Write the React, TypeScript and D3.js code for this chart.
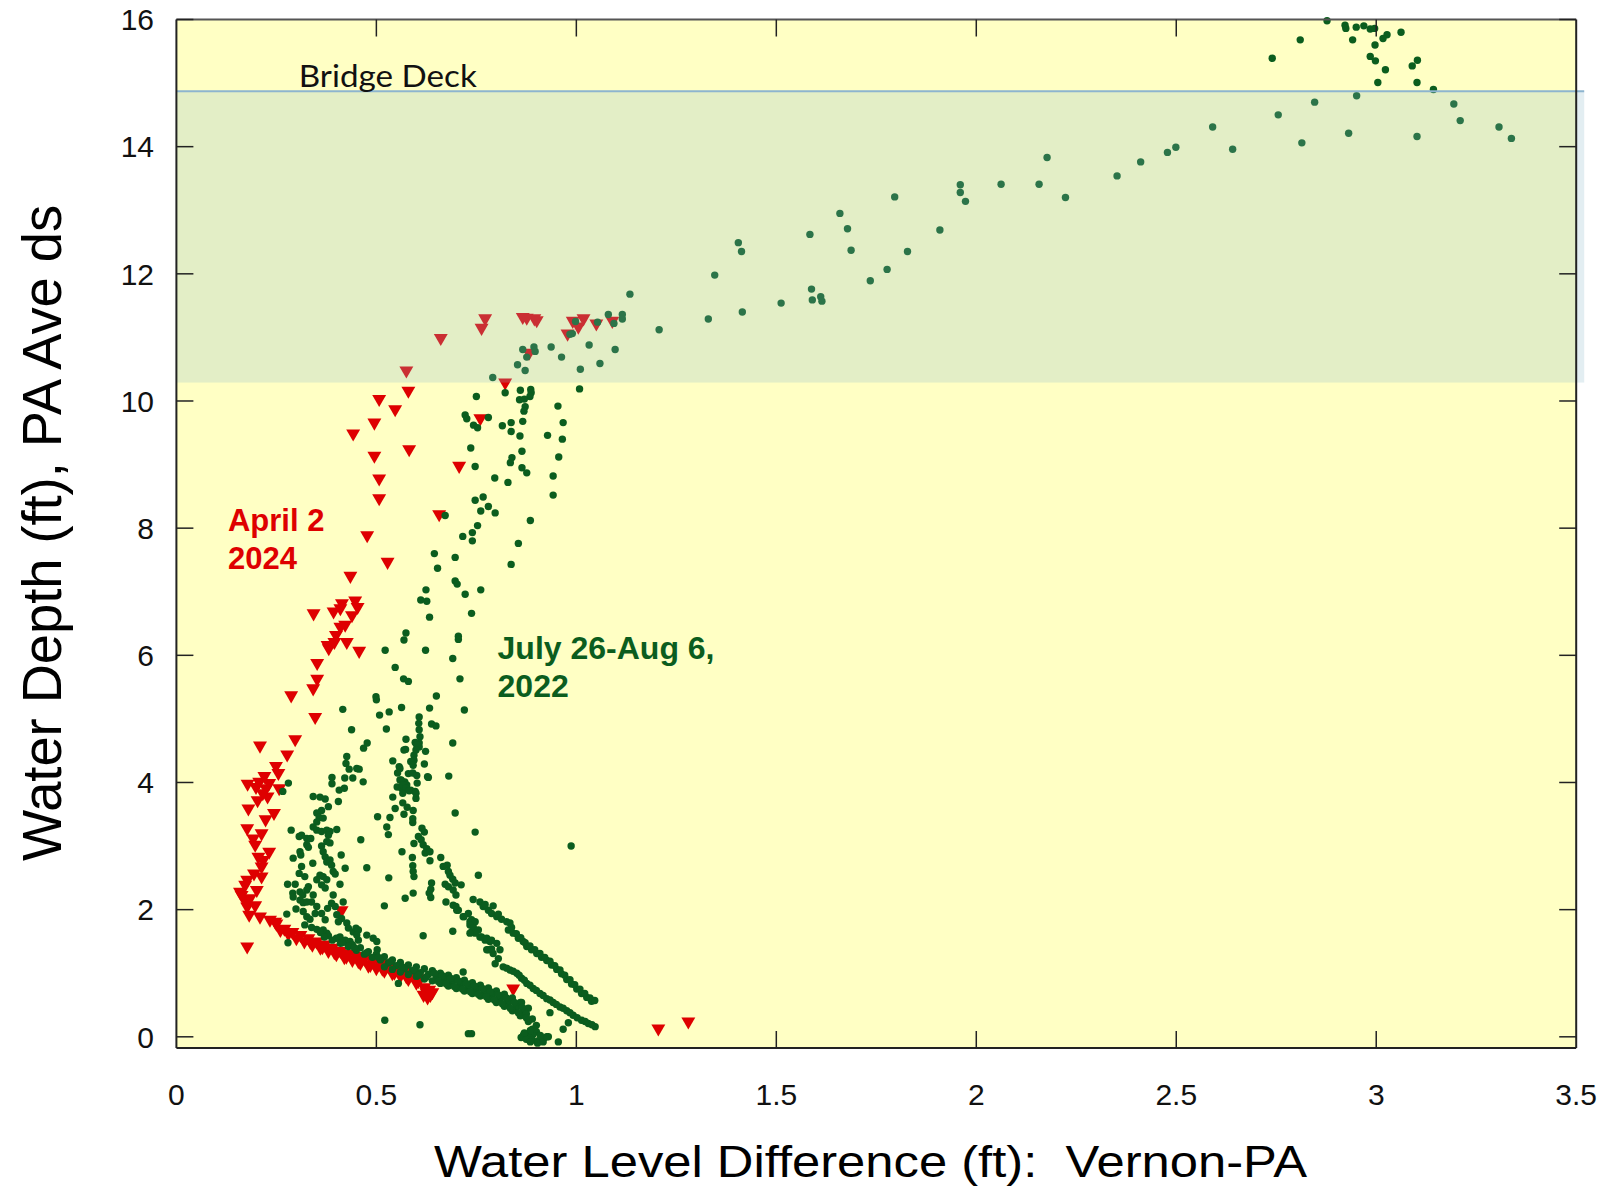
import * as d3 from "d3";

// axis ticks
const xTicks = [0, 0.5, 1, 1.5, 2, 2.5, 3, 3.5];
const yTicks = [0, 2, 4, 6, 8, 10, 12, 14, 16];
const bandLow = 10.29;
const bridgeDeck = 14.87;

// April 2 2024 - scattered triangles
const aprilScatter: [number, number][] = [
  [0.772, 11.3], [0.763, 11.15], [0.661, 10.99], [0.866, 11.32], [0.876, 11.31], [0.895, 11.3],
  [0.901, 11.27], [0.991, 11.26], [1.018, 11.3], [1.005, 11.17], [0.978, 11.06], [1.05, 11.22],
  [1.09, 11.26], [0.882, 10.76], [0.575, 10.48], [0.58, 10.16], [0.822, 10.29], [0.76, 9.73],
  [0.582, 9.24], [0.707, 8.98], [0.657, 8.22], [0.507, 10.03], [0.547, 9.87], [0.495, 9.66],
  [0.442, 9.49], [0.495, 9.14], [0.507, 8.78], [0.507, 8.47], [0.477, 7.89], [0.528, 7.47],
  [0.435, 7.25], [0.447, 6.86], [0.453, 6.76], [0.414, 6.82], [0.41, 6.74], [0.393, 6.69],
  [0.343, 6.66], [0.439, 6.63], [0.422, 6.48], [0.41, 6.45], [0.399, 6.32], [0.395, 6.21],
  [0.378, 6.16], [0.381, 6.11], [0.426, 6.21], [0.457, 6.07], [0.352, 5.88], [0.352, 5.63],
  [0.342, 5.48], [0.287, 5.37], [0.347, 5.03], [0.297, 4.68], [0.209, 4.58], [0.277, 4.44],
  [0.249, 4.26], [0.255, 4.15], [0.22, 4.1], [0.207, 4.01], [0.232, 3.99], [0.178, 3.98],
  [0.199, 3.93], [0.224, 3.91], [0.216, 3.83], [0.228, 3.78], [0.203, 3.72], [0.257, 3.91],
  [0.18, 3.59], [0.244, 3.52], [0.223, 3.42], [0.177, 3.28], [0.213, 3.2], [0.192, 3.12],
  [0.197, 3.02], [0.232, 2.91], [0.205, 2.83], [0.217, 2.78], [0.213, 2.68], [0.194, 2.57],
  [0.213, 2.52], [0.177, 2.47], [0.172, 2.39], [0.201, 2.31], [0.159, 2.28], [0.163, 2.23],
  [0.172, 2.15], [0.184, 2.18], [0.177, 2.05], [0.197, 2.07], [0.182, 1.92], [0.209, 1.89],
  [0.177, 1.42], [0.234, 1.84], [0.247, 1.81], [0.413, 1.99], [0.842, 0.76], [1.205, 0.13],
  [1.28, 0.24],
];

// April 2 2024 - recession limb
const aprilLine: [number, number][] = [
  [0.25, 1.78], [0.27, 1.7], [0.29, 1.65], [0.31, 1.6], [0.33, 1.55], [0.35, 1.5], [0.37, 1.45],
  [0.39, 1.4], [0.41, 1.35], [0.43, 1.31], [0.45, 1.27], [0.47, 1.23], [0.49, 1.19], [0.51, 1.15],
  [0.53, 1.11], [0.55, 1.07], [0.57, 1.02], [0.59, 0.97], [0.61, 0.92],
  [0.26, 1.68], [0.28, 1.62], [0.3, 1.55], [0.32, 1.5], [0.34, 1.45], [0.36, 1.4], [0.38, 1.35],
  [0.4, 1.3], [0.42, 1.25], [0.44, 1.21], [0.46, 1.16], [0.48, 1.12], [0.5, 1.08], [0.52, 1.04],
  [0.54, 1.0], [0.56, 0.96], [0.58, 0.91], [0.6, 0.85], [0.62, 0.78],
  [0.335, 1.49], [0.365, 1.41], [0.395, 1.33], [0.425, 1.26], [0.455, 1.19], [0.485, 1.13],
  [0.515, 1.07], [0.545, 1.01], [0.575, 0.95], [0.605, 0.88],
  [0.625, 0.7], [0.635, 0.66], [0.628, 0.62], [0.64, 0.7], [0.618, 0.66], [0.632, 0.74],
];

// July 26 - Aug 6 2022 - above 10.5 ft
const julyHigh: [number, number][] = [
  [2.877, 15.98], [2.922, 15.91], [2.924, 15.86], [2.95, 15.88], [2.969, 15.9], [2.985, 15.85],
  [2.996, 15.86], [2.81, 15.68], [2.941, 15.68], [3.027, 15.76], [3.017, 15.7], [3.062, 15.8],
  [2.997, 15.6], [2.74, 15.39], [2.985, 15.42], [2.998, 15.35], [3.023, 15.21], [3.103, 15.36],
  [3.09, 15.27], [3.004, 15.01], [3.102, 15.01], [3.143, 14.9], [2.846, 14.7], [2.951, 14.8],
  [2.755, 14.5], [3.194, 14.67], [3.21, 14.41], [3.307, 14.31], [3.338, 14.13], [2.931, 14.21],
  [3.102, 14.16], [2.814, 14.06], [2.591, 14.31], [2.641, 13.96], [2.499, 13.99], [2.478, 13.91],
  [2.411, 13.76], [2.352, 13.54], [2.177, 13.83], [2.223, 13.2], [2.157, 13.41], [2.062, 13.41],
  [1.96, 13.4], [1.96, 13.28], [1.973, 13.14], [1.796, 13.21], [1.909, 12.69], [1.828, 12.35],
  [1.777, 12.07], [1.735, 11.89], [1.659, 12.95], [1.678, 12.71], [1.687, 12.37], [1.584, 12.62],
  [1.588, 11.76], [1.59, 11.59], [1.611, 11.64], [1.614, 11.57], [1.512, 11.54], [1.415, 11.4],
  [1.33, 11.29], [1.405, 12.49], [1.413, 12.35], [1.346, 11.98], [1.207, 11.12], [1.134, 11.68],
  [1.115, 11.36], [1.115, 11.29], [1.08, 11.36], [1.094, 11.22], [1.097, 10.81], [1.059, 10.59],
  [1.032, 10.88], [1.01, 10.5], [1.053, 11.24], [0.998, 11.25], [0.99, 11.06], [0.984, 11.05],
  [0.963, 10.69], [0.937, 10.85], [0.894, 10.85], [0.897, 10.78], [0.866, 10.81], [0.876, 10.69],
  [0.853, 10.57],
];

// July 26 - Aug 6 2022 - rising limb 4.8 to 10.5 ft
const julyRise: [number, number][] = [
  [1.008, 10.19], [0.872, 10.48], [0.791, 10.37], [0.86, 10.17], [0.886, 10.18], [0.887, 10.13],
  [0.884, 10.07], [0.858, 10.02], [0.87, 10.03], [0.872, 9.91], [0.869, 9.84], [0.866, 9.68],
  [0.859, 9.45], [0.864, 9.21], [0.839, 9.11], [0.835, 9.03], [0.864, 8.95], [0.876, 8.87],
  [0.837, 9.66], [0.837, 9.52], [0.815, 9.61], [0.954, 9.92], [0.967, 9.66], [0.965, 9.4],
  [0.928, 9.46], [0.956, 9.12], [0.942, 8.82], [0.942, 8.52], [0.75, 10.07], [0.722, 9.78],
  [0.726, 9.72], [0.743, 9.62], [0.753, 9.58], [0.78, 9.74], [0.736, 9.26], [0.747, 8.97],
  [0.796, 8.79], [0.829, 8.72], [0.672, 8.2], [0.747, 8.44], [0.767, 8.49], [0.761, 8.27],
  [0.78, 8.34], [0.797, 8.24], [0.753, 8.04], [0.74, 7.93], [0.74, 7.8], [0.716, 7.87],
  [0.885, 8.12], [0.855, 7.76], [0.837, 7.43], [0.645, 7.6], [0.697, 7.54], [0.653, 7.37],
  [0.697, 7.17], [0.702, 7.12], [0.722, 6.96], [0.761, 7.03], [0.624, 7.03], [0.611, 6.87],
  [0.626, 6.85], [0.633, 6.6], [0.738, 6.66], [0.574, 6.35], [0.569, 6.24], [0.705, 6.3],
  [0.705, 6.25], [0.623, 6.08], [0.691, 5.95], [0.568, 5.63], [0.58, 5.59], [0.709, 5.63],
  [0.65, 5.36], [0.563, 5.18], [0.633, 5.17], [0.72, 5.14], [0.607, 5.03], [0.606, 4.93],
  [0.638, 4.92], [0.649, 4.89], [0.822, 10.13], [0.522, 6.08], [0.547, 5.81], [0.499, 5.35],
  [0.5, 5.3], [0.416, 5.15], [0.532, 5.11], [0.508, 5.06], [0.438, 4.83], [0.525, 4.84],
];

// July 26 - Aug 6 2022 - scattered below 4.8 ft
const julyLow: [number, number][] = [
  [0.607, 4.83], [0.609, 4.72], [0.607, 4.62], [0.597, 4.63], [0.607, 4.56], [0.574, 4.68],
  [0.691, 4.62], [0.468, 4.54], [0.477, 4.62], [0.569, 4.51], [0.623, 4.49], [0.541, 4.34],
  [0.594, 4.43], [0.594, 4.35], [0.586, 4.33], [0.592, 4.27], [0.62, 4.29], [0.426, 4.41],
  [0.424, 4.3], [0.432, 4.21], [0.451, 4.22], [0.457, 4.21], [0.681, 4.1], [0.628, 4.09],
  [0.573, 4.52], [0.601, 4.59], [0.599, 4.51], [0.553, 4.15], [0.557, 4.25],
  [0.421, 4.07], [0.441, 4.07], [0.467, 4.01], [0.389, 4.08], [0.389, 3.98], [0.407, 3.88],
  [0.42, 3.91], [0.405, 3.7], [0.28, 3.99], [0.266, 3.86], [0.342, 3.78], [0.359, 3.77],
  [0.372, 3.74], [0.38, 3.62], [0.363, 3.56], [0.351, 3.52], [0.357, 3.45], [0.367, 3.44],
  [0.351, 3.38], [0.342, 3.3], [0.351, 3.25], [0.363, 3.23], [0.376, 3.25], [0.384, 3.23],
  [0.401, 3.26], [0.287, 3.25], [0.307, 3.15], [0.313, 3.17], [0.326, 3.12], [0.336, 3.12],
  [0.38, 3.17], [0.376, 3.07], [0.384, 3.05], [0.326, 3.02], [0.33, 2.98], [0.461, 3.1],
  [0.363, 3.0], [0.367, 2.91], [0.372, 2.83], [0.376, 2.75], [0.309, 2.91], [0.311, 2.86],
  [0.292, 2.81], [0.341, 2.73], [0.412, 2.86], [0.384, 2.78], [0.388, 2.7], [0.392, 2.6],
  [0.397, 2.56], [0.422, 2.65], [0.313, 2.68], [0.307, 2.57], [0.321, 2.52], [0.359, 2.54],
  [0.367, 2.52], [0.376, 2.47], [0.33, 2.36], [0.326, 2.31], [0.351, 2.47], [0.363, 2.39],
  [0.372, 2.34], [0.278, 2.4], [0.297, 2.4], [0.291, 2.26], [0.292, 2.2], [0.309, 2.28],
  [0.316, 2.23], [0.309, 2.15], [0.317, 2.11], [0.326, 2.12], [0.342, 2.23], [0.338, 2.12],
  [0.351, 2.05], [0.347, 1.94], [0.299, 2.01], [0.276, 1.93], [0.317, 1.97], [0.326, 1.89],
  [0.334, 1.85], [0.321, 1.76], [0.338, 1.72], [0.351, 1.69], [0.363, 1.94], [0.372, 1.84],
  [0.392, 2.23], [0.388, 2.1], [0.397, 2.05], [0.409, 2.4], [0.417, 2.12], [0.401, 1.92],
  [0.413, 1.86], [0.405, 1.81], [0.378, 2.02], [0.426, 1.79], [0.43, 1.71], [0.442, 1.65],
  [0.449, 1.71], [0.455, 1.68], [0.279, 1.48], [0.376, 1.63], [0.367, 1.68], [0.409, 1.57],
  [0.422, 1.52], [0.434, 1.5], [0.455, 1.52], [0.451, 1.6], [0.476, 1.6], [0.492, 1.55],
  [0.501, 1.5], [0.502, 1.37], [0.476, 2.66], [0.52, 2.06], [0.531, 2.5],
  [0.559, 4.22], [0.58, 4.14], [0.591, 4.15], [0.601, 4.11], [0.559, 4.04], [0.571, 4.01],
  [0.552, 3.93], [0.563, 3.91], [0.576, 3.96], [0.586, 3.88], [0.597, 3.86], [0.599, 3.75],
  [0.602, 3.99], [0.63, 4.08], [0.541, 3.77], [0.566, 3.68], [0.577, 3.61], [0.547, 3.59],
  [0.592, 3.56], [0.569, 3.5], [0.591, 3.43], [0.591, 3.37], [0.534, 3.45], [0.503, 3.46],
  [0.526, 3.3], [0.53, 3.18], [0.614, 3.28], [0.62, 3.22], [0.605, 3.15], [0.612, 3.1],
  [0.594, 3.04], [0.617, 3.02], [0.626, 2.96], [0.622, 2.89], [0.634, 2.91], [0.564, 2.91],
  [0.59, 2.82], [0.634, 2.77], [0.661, 2.82], [0.667, 2.68], [0.677, 2.7], [0.591, 2.69],
  [0.592, 2.6], [0.594, 2.52], [0.68, 2.6], [0.684, 2.54], [0.691, 2.48], [0.697, 2.42],
  [0.712, 2.39], [0.672, 2.4], [0.68, 2.36], [0.638, 2.42], [0.636, 2.32], [0.632, 2.26],
  [0.636, 2.19], [0.692, 2.31], [0.699, 2.23], [0.592, 2.26], [0.572, 2.18], [0.674, 2.12],
  [0.699, 2.05], [0.705, 1.99], [0.755, 2.54], [0.697, 3.52], [0.747, 3.22], [0.987, 3.0],
  [0.742, 2.16], [0.562, 4.04], [0.566, 3.96], [0.574, 3.91], [0.582, 3.87], [0.566, 3.83],
  [0.599, 3.83], [0.617, 1.59], [0.691, 1.66], [0.717, 1.02], [0.555, 0.84], [0.521, 0.26],
  [0.609, 0.19], [0.73, 0.05], [0.738, 0.05], [0.863, 0.54], [0.934, 0.38], [0.967, 0.12],
  [0.98, 0.22], [0.93, 0.0], [0.955, -0.08],
];

// July 26 - Aug 6 2022 - the three dense recession streaks
const julyStreaks: [number, number][] = [
  // right streak
  [0.759, 2.12], [0.767, 2.05], [0.78, 1.99], [0.792, 2.06], [0.788, 1.94], [0.801, 1.89],
  [0.813, 1.85], [0.826, 1.81], [0.834, 1.79], [0.83, 1.68], [0.842, 1.63], [0.855, 1.55],
  [0.867, 1.5], [0.876, 1.42], [0.888, 1.37], [0.901, 1.31], [0.913, 1.25], [0.926, 1.2],
  [0.938, 1.13], [0.951, 1.06], [0.963, 0.99], [0.976, 0.9], [0.988, 0.83], [1.001, 0.75],
  [1.013, 0.68], [1.026, 0.62], [1.038, 0.56],
  [0.772, 2.08], [0.805, 1.93], [0.838, 1.72], [0.85, 1.62], [0.861, 1.56], [0.872, 1.48],
  [0.884, 1.43], [0.896, 1.37], [0.909, 1.31], [0.921, 1.25], [0.934, 1.19], [0.946, 1.12],
  [0.959, 1.05], [0.971, 0.97], [0.984, 0.9], [0.996, 0.82], [1.009, 0.75], [1.021, 0.68],
  [1.034, 0.61], [1.046, 0.57],
  // middle streak
  [0.692, 2.07], [0.701, 1.99], [0.717, 1.89], [0.73, 1.94], [0.734, 1.81], [0.742, 1.73],
  [0.738, 1.65], [0.759, 1.57], [0.772, 1.52], [0.784, 1.5], [0.801, 1.47], [0.809, 1.37],
  [0.78, 1.37], [0.792, 1.31], [0.805, 1.23], [0.797, 1.15], [0.817, 1.1], [0.834, 1.05],
  [0.851, 1.0], [0.863, 0.92], [0.876, 0.84], [0.892, 0.76], [0.909, 0.68], [0.926, 0.6],
  [0.942, 0.54], [0.959, 0.47], [0.976, 0.41], [0.992, 0.34], [1.013, 0.26], [1.03, 0.21],
  [1.047, 0.16],
  [0.826, 1.08], [0.842, 1.03], [0.857, 0.97], [0.87, 0.89], [0.884, 0.81], [0.9, 0.73],
  [0.917, 0.65], [0.934, 0.58], [0.95, 0.51], [0.967, 0.45], [0.984, 0.38], [1.002, 0.3],
  [1.022, 0.24], [1.039, 0.19],
  [0.763, 1.57], [0.776, 1.55], [0.788, 1.52], [0.776, 1.37], [0.788, 1.38], [0.719, 1.89],
  [0.738, 1.84], [0.747, 1.81], [0.734, 1.76], [0.742, 1.71], [0.755, 1.68], [0.747, 1.63],
  [0.734, 1.63],
  // lower streak
  [0.36, 1.64], [0.38, 1.59], [0.4, 1.55], [0.42, 1.5], [0.44, 1.45], [0.46, 1.4], [0.48, 1.34],
  [0.5, 1.3], [0.52, 1.26], [0.54, 1.21], [0.56, 1.17], [0.58, 1.13], [0.6, 1.1], [0.62, 1.07],
  [0.64, 1.04], [0.66, 1.0], [0.68, 0.97], [0.7, 0.93], [0.72, 0.89], [0.74, 0.85], [0.76, 0.81],
  [0.78, 0.77], [0.8, 0.72], [0.82, 0.67], [0.84, 0.61], [0.86, 0.54], [0.88, 0.45],
  [0.37, 1.57], [0.39, 1.52], [0.41, 1.47], [0.43, 1.42], [0.45, 1.36], [0.47, 1.3], [0.49, 1.25],
  [0.51, 1.21], [0.53, 1.16], [0.55, 1.12], [0.57, 1.07], [0.59, 1.04], [0.61, 1.01], [0.63, 0.98],
  [0.65, 0.94], [0.67, 0.9], [0.69, 0.86], [0.71, 0.82], [0.73, 0.78], [0.75, 0.74], [0.77, 0.7],
  [0.79, 0.66], [0.81, 0.6], [0.83, 0.54], [0.85, 0.47], [0.87, 0.39], [0.89, 0.28], [0.9, 0.18],
  [0.52, 1.1], [0.54, 1.06], [0.56, 1.02], [0.58, 0.98], [0.6, 0.95], [0.62, 0.91], [0.64, 0.88],
  [0.66, 0.84], [0.68, 0.8], [0.7, 0.76], [0.72, 0.72], [0.74, 0.68], [0.76, 0.64], [0.78, 0.59],
  [0.8, 0.54], [0.82, 0.48], [0.84, 0.41], [0.86, 0.33], [0.88, 0.24], [0.89, 0.12],
  [0.415, 1.48], [0.445, 1.4], [0.475, 1.32], [0.505, 1.25], [0.535, 1.18], [0.565, 1.1],
  [0.595, 1.05], [0.645, 1.0], [0.665, 0.96], [0.685, 0.92], [0.705, 0.88], [0.725, 0.84],
  [0.745, 0.8], [0.765, 0.76], [0.785, 0.71], [0.805, 0.66], [0.825, 0.61], [0.845, 0.54],
  [0.865, 0.46], [0.875, 0.36], [0.605, 0.97], [0.625, 0.94], [0.655, 0.87], [0.675, 0.83],
  [0.695, 0.79], [0.715, 0.75], [0.735, 0.71], [0.755, 0.67], [0.775, 0.63], [0.795, 0.58],
  [0.815, 0.52], [0.835, 0.45], [0.855, 0.38], [0.875, 0.3],
  [0.9, 0.08], [0.892, 0.04], [0.88, 0.02], [0.868, 0.03], [0.862, -0.01], [0.875, -0.04],
  [0.89, -0.05], [0.905, -0.06], [0.918, -0.03], [0.91, 0.02], [0.895, 0.12], [0.885, 0.1],
  [0.903, -0.1], [0.885, -0.08], [0.87, 0.06], [0.917, -0.08], [0.926, 0.0],
];

const RED = "#de0000";
const GREEN = "#0b5d1e";

export default function App() {
  const width = 1608;
  const height = 1193;
  const x = d3.scaleLinear().domain([0, 3.5]).range([176.4, 1576.2]);
  const y = d3.scaleLinear().domain([-0.176, 16]).range([1048, 19.5]);
  const tri = d3.symbol().type(d3.symbolTriangle).size(84)() as string;
  const fmt = d3.format("~g");
  const greens = [...julyHigh, ...julyRise, ...julyLow, ...julyStreaks];
  const reds = [...aprilScatter, ...aprilLine];
  const [x0, x1] = x.range();
  const [yb, yt] = y.range();
  const tickLen = 17;
  const arial = "'Liberation Sans', Arial, sans-serif";

  return (
    <svg
      width={width}
      height={height}
      style={{ position: "absolute", left: 0, top: 0, background: "#fff" }}
    >
      <rect x={x0} y={yt} width={x1 - x0} height={yb - yt} fill="#ffffc4" />

      <g>
        {reds.map((d, i) => (
          <path
            key={"r" + i}
            d={tri}
            fill={RED}
            transform={`translate(${x(d[0])},${y(d[1])}) rotate(180)`}
          />
        ))}
      </g>
      <g>
        {greens.map((d, i) => (
          <circle key={"g" + i} cx={x(d[0])} cy={y(d[1])} r={3.7} fill={GREEN} />
        ))}
      </g>

      {/* overtopping band */}
      <rect
        x={x0}
        y={y(bridgeDeck)}
        width={x(3.52) - x0}
        height={y(bandLow) - y(bridgeDeck)}
        fill="#8fbbcd"
        opacity={0.25}
      />
      <line
        x1={x0}
        x2={x(3.52)}
        y1={y(bridgeDeck)}
        y2={y(bridgeDeck)}
        stroke="#8db4cf"
        strokeWidth={2}
      />
      <text
        x={x(0.306)}
        y={y(14.94)}
        fontFamily="Lato, 'Open Sans', sans-serif"
        fontSize={30}
        textLength={178}
        lengthAdjust="spacingAndGlyphs"
        fill="#111"
      >
        Bridge Deck
      </text>

      {/* frame */}
      <line x1={x0} x2={x1} y1={yt} y2={yt} stroke="#555" strokeWidth={2} />
      <line x1={x0} x2={x1} y1={yb} y2={yb} stroke="#222" strokeWidth={2} />
      <line x1={x0} x2={x0} y1={yt} y2={yb} stroke="#222" strokeWidth={2} />
      <line x1={x1} x2={x1} y1={yt} y2={yb} stroke="#222" strokeWidth={2} />

      {/* ticks */}
      {xTicks.slice(1, -1).map((t) => (
        <g key={"xt" + t}>
          <line x1={x(t)} x2={x(t)} y1={yb} y2={yb - tickLen} stroke="#222" strokeWidth={1.5} />
          <line x1={x(t)} x2={x(t)} y1={yt} y2={yt + tickLen} stroke="#222" strokeWidth={1.5} />
        </g>
      ))}
      {yTicks.map((t) => (
        <g key={"yt" + t}>
          <line x1={x0} x2={x0 + tickLen} y1={y(t)} y2={y(t)} stroke="#222" strokeWidth={1.5} />
          <line x1={x1} x2={x1 - tickLen} y1={y(t)} y2={y(t)} stroke="#222" strokeWidth={1.5} />
        </g>
      ))}

      {/* tick labels */}
      {xTicks.map((t) => (
        <text
          key={"xl" + t}
          x={x(t)}
          y={1105}
          textAnchor="middle"
          fontFamily={arial}
          fontSize={30}
          fill="#111"
        >
          {fmt(t)}
        </text>
      ))}
      {yTicks.map((t) => (
        <text
          key={"yl" + t}
          x={154}
          y={y(t)}
          dy="0.36em"
          textAnchor="end"
          fontFamily={arial}
          fontSize={30}
          fill="#111"
        >
          {fmt(t)}
        </text>
      ))}

      {/* axis titles */}
      <text
        x={434}
        y={1177}
        fontFamily={arial}
        fontSize={45}
        textLength={873}
        lengthAdjust="spacingAndGlyphs"
        xmlSpace="preserve"
        fill="#000"
      >
        {"Water Level Difference (ft):  Vernon-PA"}
      </text>
      <text
        transform="translate(61,861) rotate(-90)"
        fontFamily={arial}
        fontSize={56}
        textLength={656}
        lengthAdjust="spacingAndGlyphs"
        fill="#000"
      >
        Water Depth (ft), PA Ave ds
      </text>

      {/* annotations */}
      <g fontFamily={arial} fontWeight="bold" fontSize={31} fill={RED}>
        <text x={x(0.129)} y={y(7.96)}>April 2</text>
        <text x={x(0.129)} y={y(7.35)}>2024</text>
      </g>
      <g fontFamily={arial} fontWeight="bold" fontSize={32} fill={GREEN}>
        <text x={x(0.803)} y={y(5.94)}>July 26-Aug 6,</text>
        <text x={x(0.803)} y={y(5.34)}>2022</text>
      </g>
    </svg>
  );
}
